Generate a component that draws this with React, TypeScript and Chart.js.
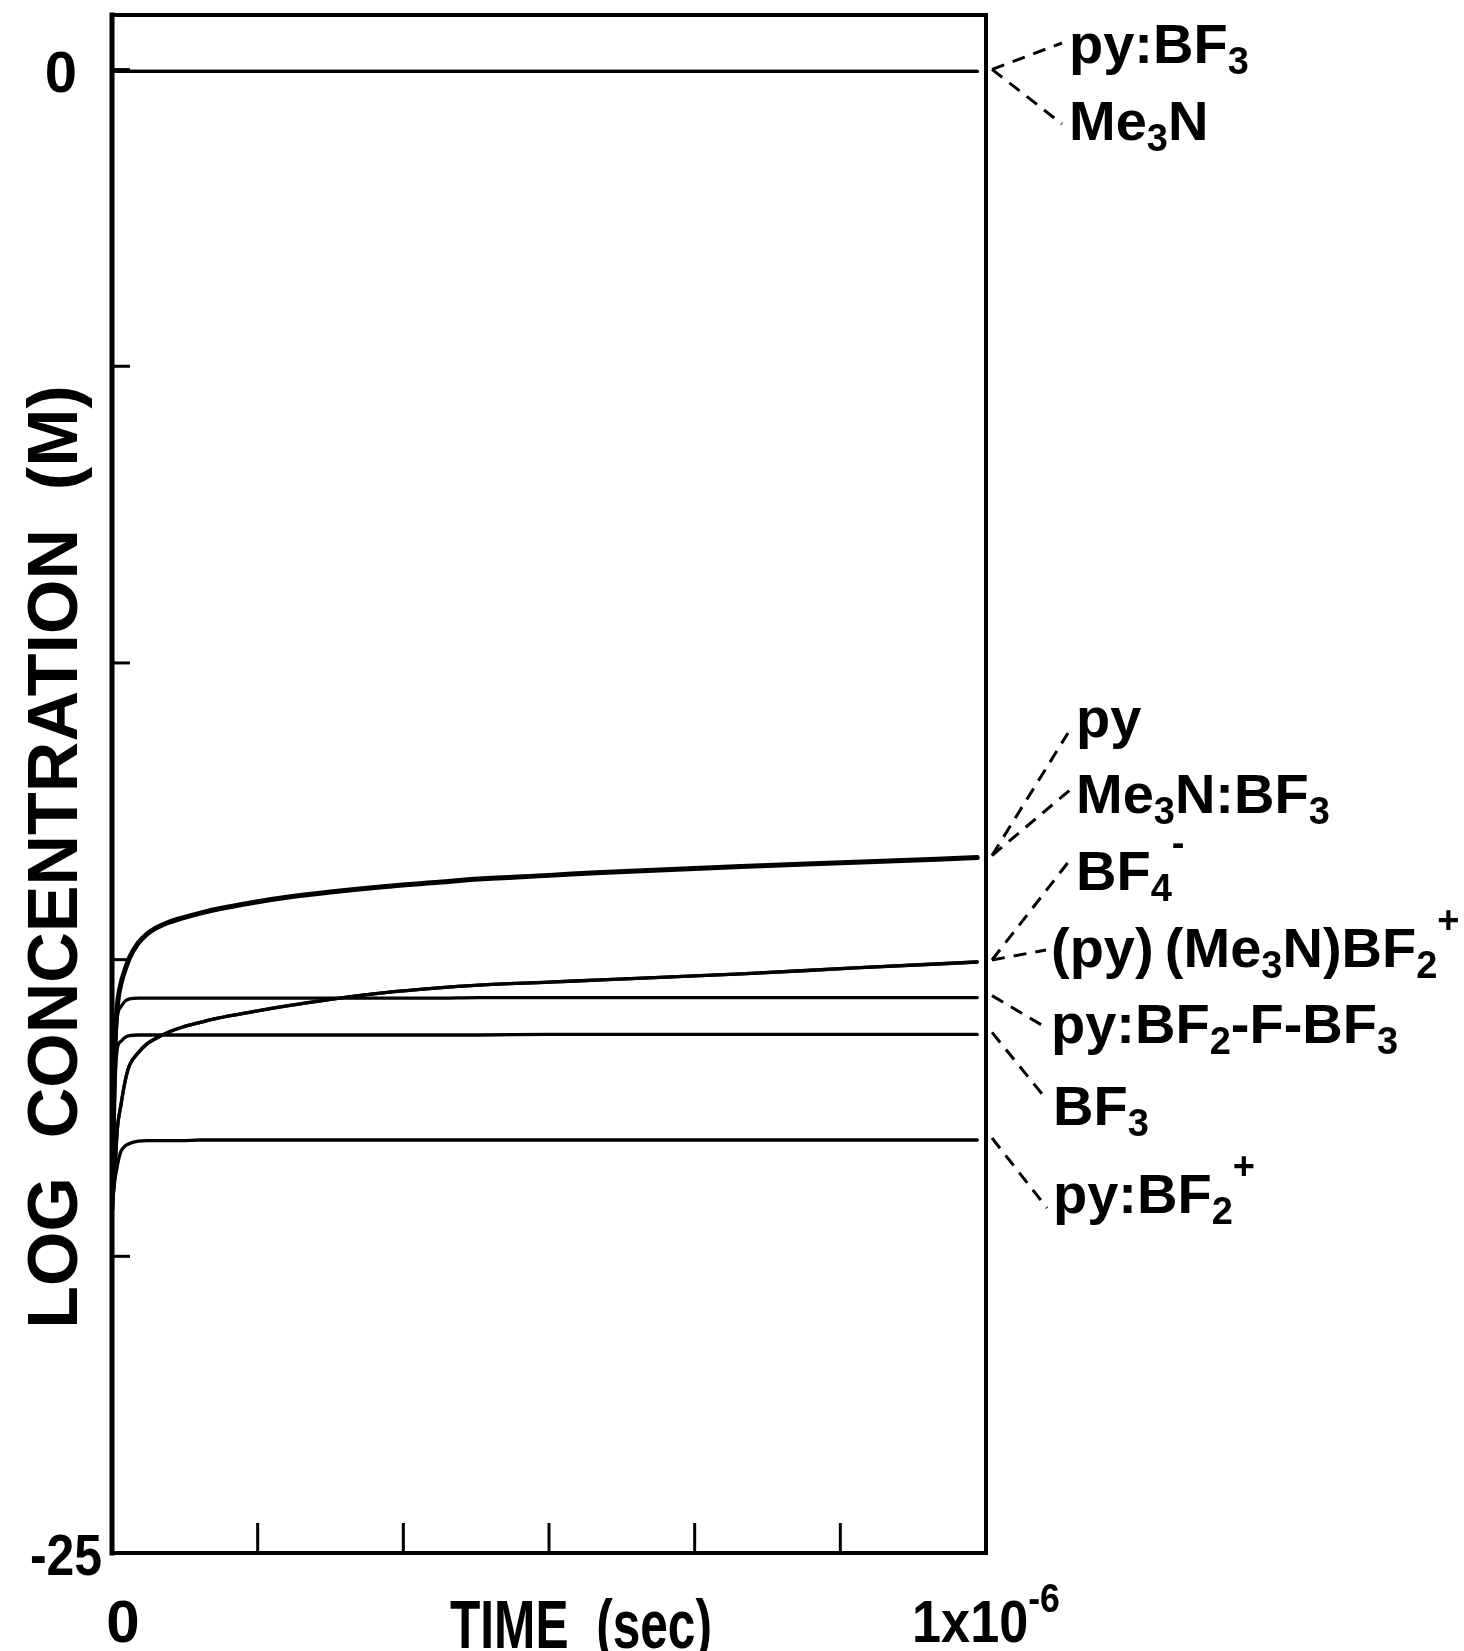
import React, { useEffect, useRef } from "react";
import { Chart, registerables } from "chart.js";

Chart.register(...registerables);

// ---- data (time in seconds, values = log10 concentration in M) ----
const timeSec = [0, 3e-9, 6e-9, 1e-8, 1.5e-8, 2e-8, 3e-8, 4e-8, 5e-8, 6.5e-8, 8e-8, 1e-7, 1.2e-7, 1.6e-7, 2e-7, 2.5e-7, 3.1e-7, 3.7e-7, 4.2e-7, 5e-7, 5.6e-7, 6.4e-7, 7.2e-7, 8.5e-7, 9.9e-7];

const pyBF3 = [-0.03, -0.03, -0.03, -0.03, -0.03, -0.03, -0.03, -0.03, -0.03, -0.03, -0.03, -0.03, -0.03, -0.03, -0.03, -0.03, -0.03, -0.03, -0.03, -0.03, -0.03, -0.03, -0.03, -0.03, -0.03];
const me3N = [-0.03, -0.03, -0.03, -0.03, -0.03, -0.03, -0.03, -0.03, -0.03, -0.03, -0.03, -0.03, -0.03, -0.03, -0.03, -0.03, -0.03, -0.03, -0.03, -0.03, -0.03, -0.03, -0.03, -0.03, -0.03];
const py = [-19.2, -16.6, -15.8, -15.42, -15.17, -14.97, -14.72, -14.57, -14.47, -14.37, -14.3, -14.22, -14.15, -14.04, -13.95, -13.86, -13.77, -13.7, -13.64, -13.58, -13.53, -13.48, -13.43, -13.36, -13.28];
const me3NBF3 = [-19.2, -16.6, -15.8, -15.42, -15.17, -14.97, -14.72, -14.57, -14.47, -14.37, -14.3, -14.22, -14.15, -14.04, -13.95, -13.86, -13.77, -13.7, -13.64, -13.58, -13.53, -13.48, -13.43, -13.36, -13.28];
const bf4 = [-19.2, -18.65, -17.87, -17.47, -17.05, -16.78, -16.57, -16.42, -16.33, -16.22, -16.14, -16.06, -15.99, -15.88, -15.78, -15.67, -15.56, -15.48, -15.43, -15.38, -15.34, -15.29, -15.24, -15.14, -15.04];
const pyMe3NBF2 = [-19.2, -18.65, -17.87, -17.47, -17.05, -16.78, -16.57, -16.42, -16.33, -16.22, -16.14, -16.06, -15.99, -15.88, -15.78, -15.67, -15.56, -15.48, -15.43, -15.38, -15.34, -15.29, -15.24, -15.14, -15.04];
const pyBF2FBF3 = [-19.2, -17.0, -15.98, -15.8, -15.7, -15.66, -15.65, -15.65, -15.65, -15.65, -15.65, -15.65, -15.65, -15.65, -15.65, -15.65, -15.65, -15.65, -15.64, -15.64, -15.64, -15.64, -15.64, -15.64, -15.64];
const bf3 = [-19.2, -17.3, -16.5, -16.38, -16.31, -16.28, -16.27, -16.27, -16.27, -16.27, -16.27, -16.27, -16.27, -16.27, -16.27, -16.27, -16.27, -16.27, -16.27, -16.26, -16.26, -16.26, -16.26, -16.26, -16.26];
const pyBF2 = [-19.2, -18.75, -18.48, -18.24, -18.14, -18.1, -18.06, -18.05, -18.05, -18.05, -18.05, -18.04, -18.04, -18.04, -18.04, -18.04, -18.04, -18.04, -18.04, -18.04, -18.04, -18.04, -18.04, -18.04, -18.04];

const seriesNames = ["py:BF3", "Me3N", "py", "Me3N:BF3", "BF4-", "(py)(Me3N)BF2+", "py:BF2-F-BF3", "BF3", "py:BF2+"];
const seriesValues = [pyBF3, me3N, py, me3NBF3, bf4, pyMe3NBF2, pyBF2FBF3, bf3, pyBF2];

const xTickValues = [0, 1.6667e-7, 3.3333e-7, 5e-7, 6.6667e-7, 8.3333e-7, 1e-6];
const xTickLabels = ["0", "", "", "", "", "", "1x10^{-6}"];
const yTickValues = [0, -5, -10, -15, -20, -25];
const yTickLabels = ["0", "", "", "", "", "-25"];

const xTitle = "TIME  (sec)";
const yTitle = "LOG  CONCENTRATION  (M)";

// rich-text species labels (same order as series)
const speciesLabels = ["py:BF_{3}", "Me_{3}N", "py", "Me_{3}N:BF_{3}", "BF_{4}^{-}", "(py)\u2009(Me_{3}N)BF_{2}^{+}", "py:BF_{2}-F-BF_{3}", "BF_{3}", "py:BF_{2}^{+}"];

// ---- layout / style (not data) ----
const W = 1464;
const H = 1651;
const PLOT_LEFT = 112;
const PLOT_RIGHT = 986;
const FONT = '"Liberation Sans", Arial, Helvetica, sans-serif';
const labelLayout = [
  { x: 1069, y: 63, ex: 1062, ey: 43 },
  { x: 1069, y: 140, ex: 1062, ey: 124 },
  { x: 1076, y: 737, ex: 1068, ey: 733 },
  { x: 1076, y: 813, ex: 1070, ey: 790 },
  { x: 1076, y: 890, ex: 1070, ey: 860 },
  { x: 1051, y: 967, ex: 1046, ey: 950 },
  { x: 1051, y: 1043, ex: 1045, ey: 1027 },
  { x: 1053, y: 1125, ex: 1047, ey: 1100 },
  { x: 1053, y: 1213, ex: 1047, ey: 1208 },
];

type Seg = { t: string; k: "n" | "sub" | "sup" };
function parseRich(s: string): Seg[] {
  const segs: Seg[] = [];
  const re = /([_^])\{([^}]*)\}/g;
  let last = 0;
  let m: RegExpExecArray | null;
  while ((m = re.exec(s))) {
    if (m.index > last) segs.push({ t: s.slice(last, m.index), k: "n" });
    segs.push({ t: m[2], k: m[1] === "_" ? "sub" : "sup" });
    last = re.lastIndex;
  }
  if (last < s.length) segs.push({ t: s.slice(last), k: "n" });
  return segs;
}

function drawRich(
  ctx: CanvasRenderingContext2D,
  s: string,
  x: number,
  y: number,
  size: number,
  align: "left" | "center" | "right" = "left",
  supShift = 0.55,
  hscale = 1
) {
  const segs = parseRich(s);
  const fontFor = (k: string) => `bold ${k === "n" ? size : Math.round(size * 0.68)}px ${FONT}`;
  let w = 0;
  for (const sg of segs) {
    ctx.font = fontFor(sg.k);
    w += ctx.measureText(sg.t).width;
  }
  w *= hscale;
  const x0 = align === "center" ? x - w / 2 : align === "right" ? x - w : x;
  ctx.save();
  ctx.translate(x0, y);
  ctx.scale(hscale, 1);
  ctx.textAlign = "left";
  ctx.textBaseline = "alphabetic";
  let cx = 0;
  for (const sg of segs) {
    ctx.font = fontFor(sg.k);
    const dy = sg.k === "sub" ? size * 0.2 : sg.k === "sup" ? -size * supShift : 0;
    ctx.fillText(sg.t, cx, dy);
    cx += ctx.measureText(sg.t).width;
  }
  ctx.restore();
}

const annotPlugin = {
  id: "annot",
  afterDatasetsDraw(chart: any) {
    const ctx: CanvasRenderingContext2D = chart.ctx;
    const a = chart.chartArea;
    const xs = chart.scales.x;
    const ys = chart.scales.y;
    const line = (x1: number, y1: number, x2: number, y2: number) => {
      ctx.beginPath();
      ctx.moveTo(x1, y1);
      ctx.lineTo(x2, y2);
      ctx.stroke();
    };
    ctx.save();
    ctx.strokeStyle = "#000";
    ctx.fillStyle = "#000";
    ctx.setLineDash([]);
    // frame
    ctx.lineWidth = 4;
    ctx.lineCap = "square";
    ctx.strokeRect(a.left, a.top, a.right - a.left, a.bottom - a.top);
    ctx.lineWidth = 5;
    line(a.left, a.top, a.left, a.bottom);
    // inward ticks
    ctx.lineWidth = 3;
    ctx.lineCap = "butt";
    yTickValues.forEach((v) => {
      const p = ys.getPixelForValue(v);
      line(a.left, p, a.left + 18, p);
    });
    xTickValues.forEach((v) => {
      const p = xs.getPixelForValue(v);
      line(p, a.bottom, p, a.bottom - 30);
    });
    // y tick labels
    yTickValues.forEach((v, i) => {
      if (!yTickLabels[i]) return;
      const p = ys.getPixelForValue(v);
      const frac = (p - a.top) / (a.bottom - a.top);
      const hs = yTickLabels[i].length > 1 ? 0.86 : 1;
      drawRich(ctx, yTickLabels[i], a.left - 36 + 26 * frac, p + 22, 58, "right", 0.5, hs);
    });
    // x tick labels
    xTickValues.forEach((v, i) => {
      if (!xTickLabels[i]) return;
      const p = xs.getPixelForValue(v);
      const hs = xTickLabels[i].length > 1 ? 0.87 : 1;
      drawRich(ctx, xTickLabels[i], p + (i === 0 ? 11 : 0), a.bottom + 89, 60, "center", 0.5, hs);
    });
    // x title (condensed)
    ctx.save();
    ctx.font = `bold 68px ${FONT}`;
    const tw = ctx.measureText(xTitle).width;
    const sx = 262 / tw;
    ctx.translate(581, a.bottom + 95);
    ctx.scale(sx, 1);
    ctx.textAlign = "center";
    ctx.textBaseline = "alphabetic";
    ctx.fillText(xTitle, 0, 0);
    ctx.restore();
    // y title
    ctx.save();
    ctx.translate(77, 857);
    ctx.rotate(-Math.PI / 2);
    ctx.font = `bold 70px ${FONT}`;
    ctx.textAlign = "center";
    ctx.textBaseline = "alphabetic";
    ctx.fillText(yTitle, 0, 0);
    ctx.restore();
    // species labels with dashed leaders
    speciesLabels.forEach((lab, i) => {
      const L = labelLayout[i];
      const vals = seriesValues[i];
      const sy = ys.getPixelForValue(vals[vals.length - 1]) - 2;
      const sxp = a.right + 6;
      ctx.lineWidth = 3;
      ctx.setLineDash([13, 9]);
      line(sxp, sy, L.ex, L.ey);
      ctx.setLineDash([]);
      drawRich(ctx, lab, L.x, L.y, 56, "left", 0.6);
    });
    ctx.restore();
  },
};

export default function App() {
  const ref = useRef<HTMLCanvasElement | null>(null);
  useEffect(() => {
    if (!ref.current) return;
    const datasets = seriesNames.map((name, i) => ({
      label: name,
      data: timeSec.map((t, j) => ({ x: t, y: seriesValues[i][j] })),
      borderColor: "#000",
      backgroundColor: "#000",
      borderWidth: name === "py" ? 5 : 3.3,
      pointRadius: 0,
      fill: false,
      cubicInterpolationMode: "monotone" as const,
      borderJoinStyle: "round" as const,
      borderCapStyle: "round" as const,
    }));
    const chart = new Chart(ref.current, {
      type: "line",
      data: { datasets },
      options: {
        animation: false,
        responsive: false,
        devicePixelRatio: 1,
        layout: { padding: { left: 0, top: 15, right: W - PLOT_RIGHT, bottom: 0 } },
        plugins: { legend: { display: false }, tooltip: { enabled: false }, title: { display: false } },
        scales: {
          x: {
            type: "linear",
            min: 0,
            max: 1e-6,
            grid: { display: false },
            border: { display: false },
            ticks: { display: false },
            afterBuildTicks: (s: any) => {
              s.ticks = xTickValues.map((v) => ({ value: v }));
            },
            afterFit: (s: any) => {
              s.height = 98;
            },
          },
          y: {
            type: "linear",
            min: -25,
            max: 0.92,
            grid: { display: false },
            border: { display: false },
            ticks: { display: false },
            afterBuildTicks: (s: any) => {
              s.ticks = yTickValues.map((v) => ({ value: v }));
            },
            afterFit: (s: any) => {
              s.width = PLOT_LEFT;
            },
          },
        },
      },
      plugins: [annotPlugin],
    });
    return () => chart.destroy();
  }, []);
  return (
    <div style={{ position: "fixed", left: 0, top: 0, width: W, height: H, background: "#fff" }}>
      <canvas ref={ref} width={W} height={H} style={{ display: "block" }} />
    </div>
  );
}
